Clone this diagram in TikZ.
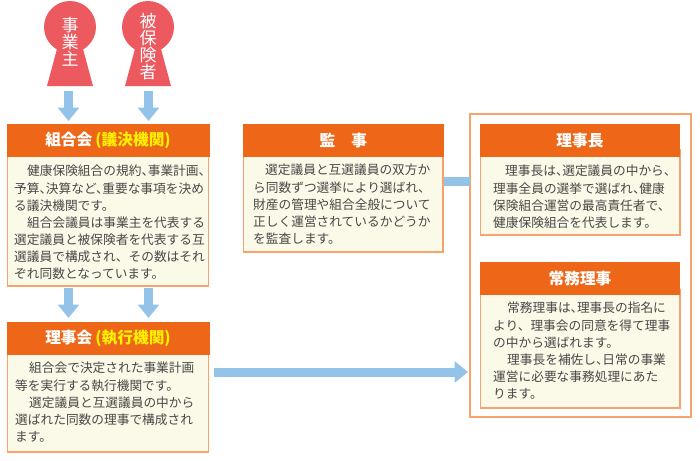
\documentclass[tikz,border=0pt]{standalone}
\usepackage{fontspec}
\usetikzlibrary{arrows.meta}
\setmainfont{Noto Sans CJK JP}
\definecolor{hdr}{HTML}{EE6617}
\definecolor{edge}{HTML}{F7A36E}
\definecolor{bodyc}{HTML}{FBF9E7}
\definecolor{arrowc}{HTML}{94C3EA}
\definecolor{keyc}{HTML}{EC5A5F}
\definecolor{txt}{HTML}{484848}
\definecolor{ylw}{HTML}{FFF100}
\newcommand{\nc}{、\kern-6.4pt}
\newcommand{\ind}{\hspace*{13pt}}
\tikzset{
  x=1pt,y=-1pt,
  bodybox/.style={draw=edge,line width=1.2pt,fill=bodyc},
  hdrbox/.style={fill=hdr,draw=none,inner sep=0pt,text=white,font=\fontsize{15.7}{16}\selectfont\bfseries},
  bodytext/.style={anchor=north west,inner sep=0pt,align=left,text=txt,font=\fontsize{12.7}{17.15}\selectfont},
  keytext/.style={inner sep=0pt,align=center,text=white,font=\fontsize{17}{17}\selectfont},
  bigarrow/.style={draw=arrowc,line width=9pt,-{Triangle[width=21pt,length=13.5pt]}},
  bar/.style={draw=arrowc,line width=9pt},
  frame/.style={draw=edge,line width=1.2pt,fill=white},
}
\begin{document}
\begin{tikzpicture}
\useasboundingbox (0,0) rectangle (700,460);
% keyholes
\fill[keyc] (44,27) arc[start angle=180,end angle=-180,radius=26];
\fill[keyc] (57.5,47) -- (82.5,47) -- (93,86) -- (47,86) -- cycle;
\fill[keyc] (122,27) arc[start angle=180,end angle=-180,radius=26];
\fill[keyc] (135.5,47) -- (160.5,47) -- (171,86) -- (125,86) -- cycle;
\node[keytext] (jigyonushi) at (70,41.5) {事\\業\\主};
\node[keytext] (hihokensha) at (148,46.5) {被\\保\\険\\者};
\coordinate (keyAend) at (68.5,91);
\coordinate (keyBend) at (148.5,91);
% outer frame
\node[frame,minimum width=221pt,minimum height=303pt,inner sep=0pt] (outer) at (580.5,265.5) {};
% panels
\draw[bodybox] (7.5,150) rectangle (208.5,286);
\node[hdrbox,minimum width=203pt,minimum height=33pt] (kumiai) at (108,140.5) {組合会\kern3pt\textcolor{ylw}{(議決機関)}};
\node[bodytext] (kumiaitext) at (14,165) {\ind 健康保険組合の規約\nc 事業計画\nc\\予算\nc 決算など\nc 重要な事項を決め\\る議決機関です。\\\ind 組合会議員は事業主を代表する\\選定議員と被保険者を代表する互\\選議員で構成され、その数はそれ\\ぞれ同数となっています。};
\draw[bodybox] (7.5,345) rectangle (208.5,452);
\node[hdrbox,minimum width=203pt,minimum height=33pt] (rijikai) at (108,338) {理事会\kern3pt\textcolor{ylw}{(執行機関)}};
\node[bodytext] (rijikaitext) at (15,362) {\hspace*{14pt}組合会で決定された事業計画\\等を実行する執行機関です。\\\hspace*{14pt}選定議員と互選議員の中から\\選ばれた同数の理事で構成され\\ます。};
\draw[bodybox] (243.5,150) rectangle (443,252);
\node[hdrbox,minimum width=200.5pt,minimum height=33pt] (kansa) at (343.25,140.5) {監\hspace{16pt}事};
\node[bodytext] (kansatext) at (253,164) {\hspace*{12pt}選定議員と互選議員の双方か\\ら同数ずつ選挙により選ばれ、\\財産の管理や組合全般について\\正しく運営されているかどうか\\を監査します。};
\draw[bodybox] (480.5,150) rectangle (680,235);
\node[hdrbox,minimum width=200pt,minimum height=33pt] (richo) at (580,140.5) {理事長};
\node[bodytext] (richotext) at (493,165) {\hspace*{12pt}理事長は\nc 選定議員の中から、\\理事全員の選挙で選ばれ\nc 健康\\保険組合運営の最高責任者で、\\健康保険組合を代表します。};
\draw[bodybox] (480.5,290) rectangle (680,408);
\node[hdrbox,minimum width=200pt,minimum height=33pt] (jomu) at (580,278.5) {常務理事};
\node[bodytext] (jomutext) at (493,302) {\hspace*{14pt}常務理事は\nc 理事長の指名に\\より、理事会の同意を得て理事\\の中から選ばれます。\\\hspace*{14pt}理事長を補佐し\nc 日常の事業\\運営に必要な事務処理にあた\\ります。};
% arrows
\coordinate (kumiaiA) at (68.5,121);
\coordinate (kumiaiB) at (148.5,121);
\coordinate (kumiaiC) at (68.5,288);
\coordinate (kumiaiD) at (148.5,288);
\coordinate (rijikaiA) at (68.5,318);
\coordinate (rijikaiB) at (148.5,318);
\coordinate (rijikaiE) at (214,372);
\coordinate (outerW) at (468,372);
\coordinate (kansaE) at (443.5,181.5);
\coordinate (outerN) at (470,181.5);
\draw[bigarrow] (keyAend) -- (kumiaiA);
\draw[bigarrow] (keyBend) -- (kumiaiB);
\draw[bigarrow] (kumiaiC) -- (rijikaiA);
\draw[bigarrow] (kumiaiD) -- (rijikaiB);
\draw[bigarrow] (rijikaiE) -- (outerW);
\draw[bar] (kansaE) -- (outerN);
\end{tikzpicture}
\end{document}
